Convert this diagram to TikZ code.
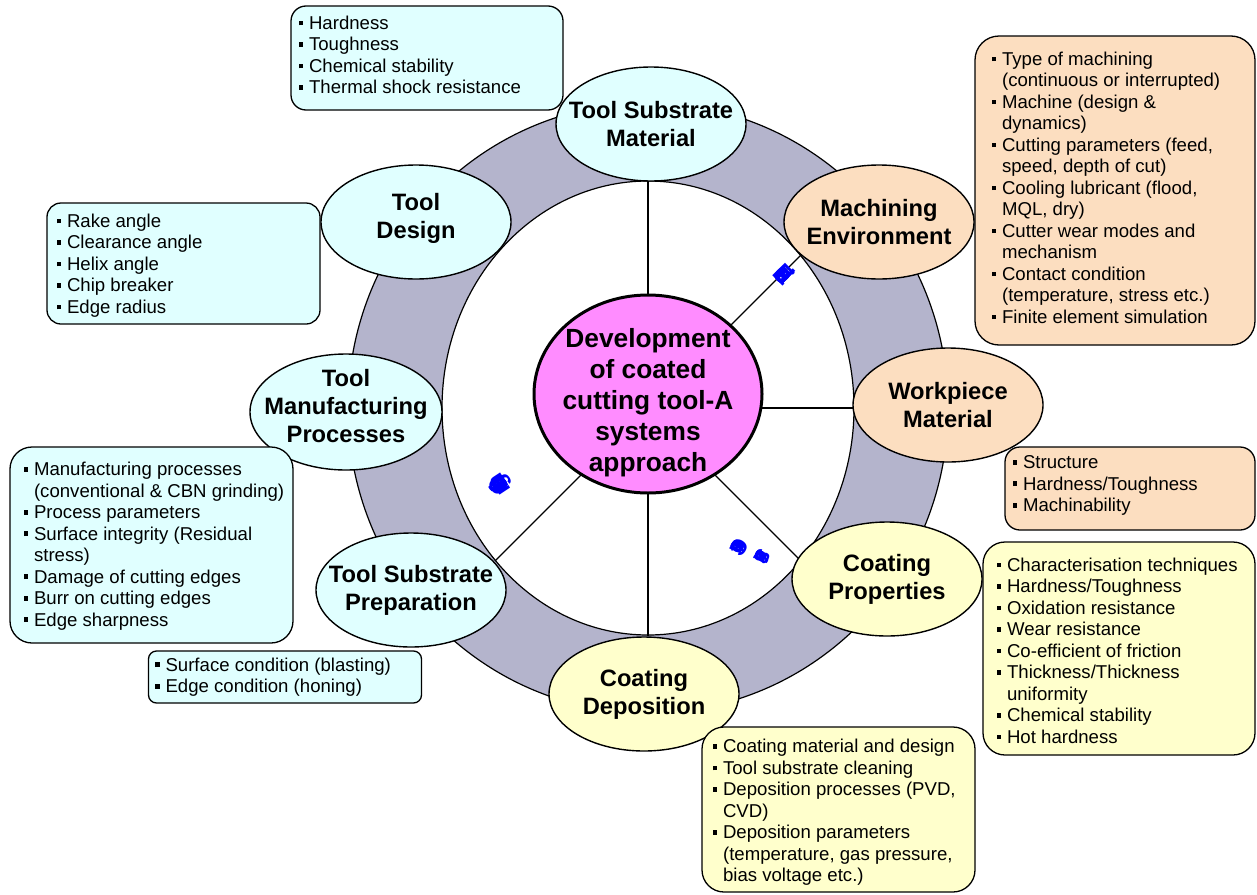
\documentclass[tikz,border=0pt]{standalone}
\usepackage{fontspec}
\setmainfont{Liberation Sans}
\usetikzlibrary{shapes.geometric}
\definecolor{cy}{HTML}{E0FFFF}
\definecolor{pe}{HTML}{FCDEC0}
\definecolor{ye}{HTML}{FFFFCC}
\definecolor{pk}{HTML}{FF8CFF}
\definecolor{ringc}{HTML}{B4B4CC}
\definecolor{bl}{HTML}{0000FF}
\newcommand\bi{\makebox[10.5pt][l]{\rule[4pt]{4.6pt}{4.6pt}}}
\newcommand\ci{\hspace*{10.5pt}}
\newcommand\curvefont{\fontsize{24}{24}\selectfont\bfseries}
\newcommand\usersfont{\fontsize{26}{26}\selectfont\bfseries}
\newcommand\surffont{\fontsize{20}{20}\selectfont\bfseries}
\newcommand\coatfont{\fontsize{22}{22}\selectfont\bfseries}
\newdimen\arcpos
\newdimen\chw
% #1 name prefix, #2 cx, #3 cy, #4 baseline radius, #5 start angle (clockwise on screen), #6 font, #7 letters
\newcommand\arcword[7]{%
  \global\arcpos=0pt\relax
  \foreach \ch [count=\k] in {#7}{%
    \setbox0=\hbox{\normalfont\fontsize{5}{5}\selectfont#6\ch}%
    \global\chw=\wd0\relax
    \pgfmathsetmacro\ang{#5+(\the\arcpos+0.5*\the\chw)/#4*57.29578}%
    \node[rotate={-\ang-90}, anchor=base, inner sep=0pt, text=bl, font=#6] (#1\k) at ({#2+#4*cos(\ang)},{#3+#4*sin(\ang)}) {\ch};
    \global\advance\arcpos by \chw\relax
  }%
}
\begin{document}
\begin{tikzpicture}[x=1pt,y=-1pt,
  lbl/.style={ellipse, draw, line width=1.4pt, minimum width=190pt, minimum height=114pt, inner sep=0pt},
  lbltext/.style={align=center, inner sep=0pt, font=\fontsize{23.7}{28}\selectfont\bfseries},
  infobox/.style={draw, line width=1.3pt, inner sep=0pt},
  infotext/.style={align=left, inner sep=0pt, anchor=west, font=\fontsize{18.6}{21.5}\selectfont},
  spoke/.style={line width=1.2pt}
]
\useasboundingbox[fill=white] (0,0) rectangle (1257,894);

% ring and inner disc
\node[ellipse, draw, line width=1.2pt, fill=ringc, minimum width=600pt, minimum height=610pt, inner sep=0pt] (ring) at (648,408) {};
\node[ellipse, draw, line width=1.2pt, fill=white, minimum width=412pt, minimum height=454pt, inner sep=0pt] (whitec) at (648,408) {};
\coordinate (O) at (648,408);

% spokes
\draw[spoke] (O) -- (whitec.90);
\draw[spoke] (O) -- (whitec.45);
\draw[spoke] (O) -- (whitec.0);
\draw[spoke] (O) -- (whitec.-45);
\draw[spoke] (O) -- (whitec.-90);
\draw[spoke] (O) -- (whitec.-135);

% hub
\node[ellipse, draw, line width=3pt, fill=pk, minimum width=228pt, minimum height=198pt, inner sep=0pt] (hub) at (648,394) {};
\node[align=center, inner sep=0pt, font=\fontsize{26.3}{31}\selectfont\bfseries] (hubt) at (648,403) {Development\\of coated\\cutting tool-A\\systems\\approach};

% curved texts
\arcword{cut}{643}{390}{165}{146.6}{\curvefont}{C,u,t,t,i,n,g,~,t,o,o,l,~,m,a,n,u,f,a,c,t,u,r,e,r,s}
\arcword{usr}{648}{408}{182}{315.5}{\usersfont}{E,n,d,~,u,s,e,r,s}
\arcword{srf}{668}{500}{103}{31.2}{\surffont}{S,~,u,~,r,~,f,~,a,~,c,~,e}
\arcword{coa}{668}{500}{78}{33.9}{\coatfont}{C,o,a,t,e,r,s}

% label ellipses
\node[lbl, fill=cy] (tsm) at (651,124) {};
\node[lbltext] (tsmt) at (tsm) {Tool Substrate\\Material};
\node[lbl, fill=cy] (td) at (416,222) {};
\node[lbltext] (tdt) at (416,218) {Tool\\Design};
\node[lbl, fill=pe] (me) at (879,222) {};
\node[lbltext] (met) at (me) {Machining\\Environment};
\node[lbl, fill=pe] (wm) at (948,405) {};
\node[lbltext] (wmt) at (wm) {Workpiece\\Material};
\node[lbl, fill=ye] (cp) at (887,579) {};
\node[lbltext] (cpt) at (cp) {Coating\\Properties};
\node[lbl, fill=ye] (cd) at (644,694) {};
\node[lbltext] (cdt) at (cd) {Coating\\Deposition};
\node[lbl, fill=cy] (tsp) at (411,590) {};
\node[lbltext] (tspt) at (tsp) {Tool Substrate\\Preparation};
\node[lbl, fill=cy, minimum width=192pt, minimum height=116pt] (tmp) at (346,412) {};
\node[lbltext] (tmpt) at (346,406) {Tool\\Manufacturing\\Processes};

% info boxes
\node[infobox, fill=cy, rounded corners=15pt, minimum width=272pt, minimum height=104pt] (b1) at (427,58) {};
\node[infotext] (b1t) at ([xshift=8pt,yshift=3pt]b1.west) {\bi Hardness\\\bi Toughness\\\bi Chemical stability\\\bi Thermal shock resistance};

\node[infobox, fill=cy, rounded corners=14pt, minimum width=273pt, minimum height=121pt] (b2) at (183.5,263.5) {};
\node[infotext] (b2t) at ([xshift=10pt,yshift=-2pt]b2.west) {\bi Rake angle\\\bi Clearance angle\\\bi Helix angle\\\bi Chip breaker\\\bi Edge radius};

\node[infobox, fill=pe, rounded corners=24pt, minimum width=280pt, minimum height=309pt] (b3) at (1115,190.5) {};
\node[infotext] (b3t) at ([xshift=17pt,yshift=3pt]b3.west) {\bi Type of machining\\\ci(continuous or interrupted)\\\bi Machine (design \&\\\ci dynamics)\\\bi Cutting parameters (feed,\\\ci speed, depth of cut)\\\bi Cooling lubricant (flood,\\\ci MQL, dry)\\\bi Cutter wear modes and\\\ci mechanism\\\bi Contact condition\\\ci(temperature, stress etc.)\\\bi Finite element simulation};

\node[infobox, fill=pe, rounded corners=15pt, minimum width=250pt, minimum height=83pt] (b4) at (1130,488.5) {};
\node[infotext] (b4t) at ([xshift=8pt,yshift=3pt]b4.west) {\bi Structure\\\bi Hardness/Toughness\\\bi Machinability};

\node[infobox, fill=ye, rounded corners=22pt, minimum width=272pt, minimum height=213pt] (b5) at (1119,648.5) {};
\node[infotext] (b5t) at ([xshift=14pt,yshift=-2pt]b5.west) {\bi Characterisation techniques\\\bi Hardness/Toughness\\\bi Oxidation resistance\\\bi Wear resistance\\\bi Co-efficient of friction\\\bi Thickness/Thickness\\\ci uniformity\\\bi Chemical stability\\\bi Hot hardness};

\node[infobox, fill=ye, rounded corners=22pt, minimum width=273pt, minimum height=165pt] (b6) at (838.5,809.5) {};
\node[infotext] (b6t) at ([xshift=11pt,yshift=-3pt]b6.west) {\bi Coating material and design\\\bi Tool substrate cleaning\\\bi Deposition processes (PVD,\\\ci CVD)\\\bi Deposition parameters\\\ci(temperature, gas pressure,\\\ci bias voltage etc.)};

\node[infobox, fill=cy, rounded corners=22pt, minimum width=283pt, minimum height=196pt] (b7) at (151.5,545) {};
\node[infotext] (b7t) at ([xshift=14pt,yshift=-1pt]b7.west) {\bi Manufacturing processes\\\ci(conventional \& CBN grinding)\\\bi Process parameters\\\bi Surface integrity (Residual\\\ci stress)\\\bi Damage of cutting edges\\\bi Burr on cutting edges\\\bi Edge sharpness};

\node[infobox, fill=cy, rounded corners=8pt, minimum width=273pt, minimum height=52pt] (b8) at (285,677) {};
\node[infotext] (b8t) at ([xshift=7pt]b8.west) {\bi Surface condition (blasting)\\\bi Edge condition (honing)};
\end{tikzpicture}
\end{document}
